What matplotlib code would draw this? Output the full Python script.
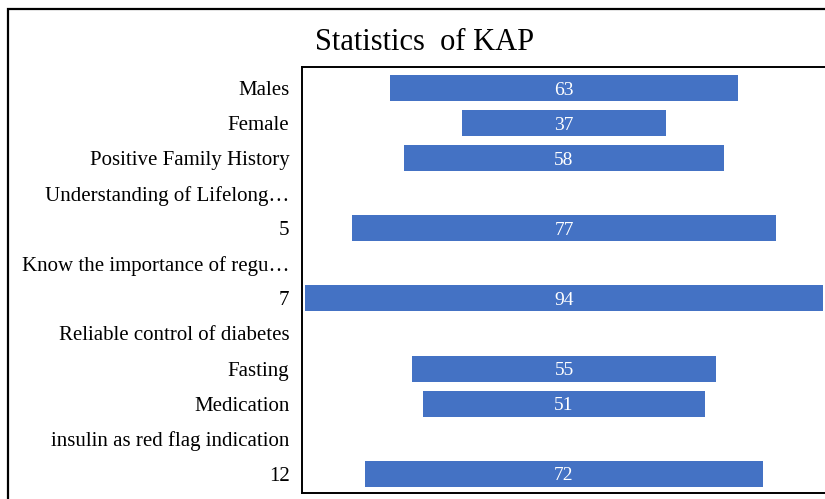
import matplotlib
matplotlib.use("Agg")
import matplotlib.pyplot as plt
from matplotlib.patches import Rectangle

plt.rcParams['font.family'] = ['Liberation Serif', 'DejaVu Serif']

categories = [
    "Males",
    "Female",
    "Positive Family History",
    "Understanding of Lifelong\u2026",
    "5",
    "Know the importance of regu\u2026",
    "7",
    "Reliable control of diabetes",
    "Fasting",
    "Medication",
    "insulin as red flag indication",
    "12",
]
values = [63, 37, 58, None, 77, None, 94, None, 55, 51, None, 72]

bar_color = "#4472C4"

fig = plt.figure(figsize=(8.25, 4.99), dpi=100)
W, H = 825, 499

# outer chart border (runs off the right/bottom of the picture)
fig.patches.append(Rectangle((8 / W, -0.1), 1.2, (499 - 9.5) / H + 0.1,
                             transform=fig.transFigure, fill=False,
                             edgecolor="black", linewidth=1.6, clip_on=False))

ax = fig.add_axes([302 / W, 6 / H, 524 / W, 426 / H])

for i, v in enumerate(values):
    if v is None:
        continue
    ax.barh(i, v, left=-v / 2, height=0.74, color=bar_color)
    ax.text(0, i, str(v), color="white", ha="center", va="center_baseline", fontsize=14)

ax.set_xlim(-47.5, 47.5)
ax.set_ylim(len(categories) - 0.45, -0.6)
ax.set_yticks(range(len(categories)))
ax.set_yticklabels(categories, fontsize=15)
ax.set_xticks([])
ax.tick_params(axis="y", length=0, pad=9)
for s in ax.spines.values():
    s.set_linewidth(1.4)
    s.set_color("black")

fig.text(425 / W, 1 - 43 / H, "Statistics  of KAP", ha="center", va="center", fontsize=22)

fig.savefig("out.png", dpi=100)
